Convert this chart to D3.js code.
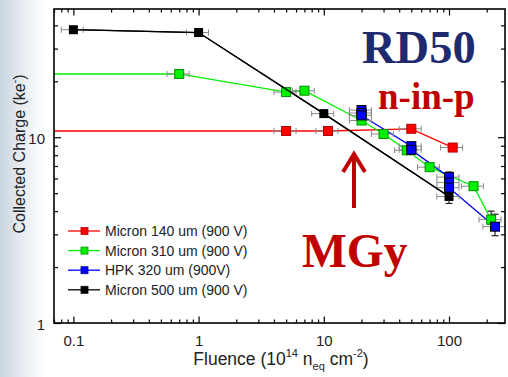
<!DOCTYPE html>
<html><head><meta charset="utf-8">
<script src="https://cdn.jsdelivr.net/npm/d3@7"></script>
<style>body{margin:0;background:#fff}svg{display:block}</style>
</head><body>
<svg id="c" width="508" height="377"></svg>
<script>
// ---- data (fluence in 1e14 neq/cm2, charge in ke-) ----
const seriesNames = ["Micron 140 um (900 V)", "Micron 310 um (900 V)", "HPK 320 um (900V)", "Micron 500 um (900 V)"];
const micron140 = [[0.01,10.8],[5,10.8],[10.8,10.8],[50,11.1],[107,8.8]];
const micron310 = [[0.01,21.9],[0.7,21.9],[5,17.5],[7,17.8],[20,12.3],[30,10.4],[46,8.5],[70,6.9],[157,5.45],[217,3.6]];
const hpk320 = [[20,14.0],[20,13.5],[20,13.1],[50,8.95],[50,8.55],[100,6.1],[100,5.7],[100,5.35],[233,3.3]];
const micron500 = [[0.1,37.9],[1,36.6],[10,13.4],[100,4.8]];
const verticalErrors = [[100,4.4,6.5],[233,2.95,3.85],[217,3.4,4.0],[50,8.2,9.3]];
const xMajorLabels = [0.1, 1, 10, 100];
const yMajorLabels = [1, 10];
const xDomain = [0.07, 280];
const yDomain = [1, 49];
const colors = ["#ff0000", "#00f000", "#0000ff", "#000000"];
const borders = ["#b00000", "#009000", "#000090", "#000000"];

const svg = d3.select("#c");
const M = {l:54, r:505, t:9, b:323};
const x = d3.scaleLog().domain(xDomain).range([M.l, M.r]);
const y = d3.scaleLog().domain(yDomain).range([M.b, M.t]);

// background
const defs = svg.append("defs");
const g0 = defs.append("linearGradient").attr("id","bg").attr("x1","0").attr("x2","1");
g0.append("stop").attr("offset","0").attr("stop-color","#c9d4df");
g0.append("stop").attr("offset","0.35").attr("stop-color","#dfe6ec");
g0.append("stop").attr("offset","1").attr("stop-color","#ffffff");
svg.append("rect").attr("width",508).attr("height",377).attr("fill","#fff");
svg.append("rect").attr("width",44).attr("height",377).attr("fill","url(#bg)");
defs.append("clipPath").attr("id","clip").append("rect")
  .attr("x",M.l).attr("y",M.t).attr("width",M.r-M.l).attr("height",M.b-M.t);
svg.append("rect").attr("x",M.l).attr("y",M.t).attr("width",M.r-M.l).attr("height",M.b-M.t).attr("fill","#fff");

// axes ticks (inward, mirrored)
const xAll = x.ticks(), yAll = y.ticks();
const isMaj = v => Math.abs(Math.log10(v) - Math.round(Math.log10(v))) < 1e-6;
const xMin = xAll.filter(v => !isMaj(v)), xMaj = xAll.filter(isMaj);
const yMin = yAll.filter(v => !isMaj(v)), yMaj = yAll.filter(isMaj);
function styleAxis(g){ g.select(".domain").remove(); g.selectAll("line").attr("stroke","#000").attr("stroke-width",1.2); }
const fmt = d => (xMajorLabels.includes(d) ? String(d) : "");
svg.append("g").attr("transform",`translate(0,${M.b})`).call(d3.axisBottom(x).tickValues(xMin).tickSize(-3.5).tickFormat("")).call(styleAxis);
svg.append("g").attr("transform",`translate(0,${M.b})`).call(d3.axisBottom(x).tickValues(xMaj).tickSize(-6.5).tickPadding(12).tickFormat(fmt)).call(styleAxis)
  .selectAll("text").attr("font-family","Liberation Sans, Arial").attr("font-size",15).attr("fill","#222");
svg.append("g").attr("transform",`translate(0,${M.t})`).call(d3.axisTop(x).tickValues(xMin).tickSize(-3.5).tickFormat("")).call(styleAxis);
svg.append("g").attr("transform",`translate(0,${M.t})`).call(d3.axisTop(x).tickValues(xMaj).tickSize(-6.5).tickFormat("")).call(styleAxis);
svg.append("g").attr("transform",`translate(${M.l},0)`).call(d3.axisLeft(y).tickValues(yMin).tickSize(-4).tickFormat("")).call(styleAxis);
svg.append("g").attr("transform",`translate(${M.l},0)`).call(d3.axisLeft(y).tickValues(yMaj).tickSize(-7).tickPadding(9).tickFormat(d => yMajorLabels.includes(d) ? String(d) : "")).call(styleAxis)
  .selectAll("text").attr("font-family","Liberation Sans, Arial").attr("font-size",15).attr("fill","#222").attr("dy","0.45em");
svg.append("g").attr("transform",`translate(${M.r},0)`).call(d3.axisRight(y).tickValues(yMin).tickSize(-4).tickFormat("")).call(styleAxis);
svg.append("g").attr("transform",`translate(${M.r},0)`).call(d3.axisRight(y).tickValues(yMaj).tickSize(-7).tickFormat("")).call(styleAxis);

// data
const plot = svg.append("g").attr("clip-path","url(#clip)");
const allSeries = [micron140, micron310, hpk320, micron500];
const line = d3.line().x(d => x(d[0])).y(d => y(d[1]));
const errFac = [0.8, 1.2];
const S = 9;
allSeries.forEach((data, i) => {
  plot.append("path").datum(data).attr("d", line).attr("fill","none").attr("stroke",colors[i]).attr("stroke-width",1.3);
});
// horizontal error bars
allSeries.forEach((data) => {
  data.forEach(d => {
    const x0 = x(d[0]*errFac[0]), x1 = x(d[0]*errFac[1]), yy = y(d[1]);
    plot.append("line").attr("x1",x0).attr("x2",x1).attr("y1",yy).attr("y2",yy).attr("stroke","#8a8a8a").attr("stroke-width",1);
    [x0,x1].forEach(xx => plot.append("line").attr("x1",xx).attr("x2",xx).attr("y1",yy-3).attr("y2",yy+3).attr("stroke","#8a8a8a").attr("stroke-width",1));
  });
});
// vertical error bars
verticalErrors.forEach(e => {
  const xx = x(e[0]);
  plot.append("line").attr("x1",xx).attr("x2",xx).attr("y1",y(e[1])).attr("y2",y(e[2])).attr("stroke","#222").attr("stroke-width",1.2);
  [e[1],e[2]].forEach(v => plot.append("line").attr("x1",xx-3.5).attr("x2",xx+3.5).attr("y1",y(v)).attr("y2",y(v)).attr("stroke","#222").attr("stroke-width",1.2));
});
// markers
[0,1,2].forEach(i => {
  allSeries[i].forEach(d => plot.append("rect").attr("x",x(d[0])-S/2).attr("y",y(d[1])-S/2).attr("width",S).attr("height",S)
    .attr("fill",colors[i]).attr("stroke",i===2?"#000":borders[i]).attr("stroke-width",1));
});
// black line over others, then black markers
plot.append("path").datum(micron500).attr("d", line).attr("fill","none").attr("stroke","#000").attr("stroke-width",1.3);
micron500.forEach(d => plot.append("rect").attr("x",x(d[0])-S/2).attr("y",y(d[1])-S/2).attr("width",S).attr("height",S).attr("fill","#000"));

// frame
svg.append("rect").attr("x",M.l).attr("y",M.t).attr("width",M.r-M.l).attr("height",M.b-M.t).attr("fill","none").attr("stroke","#000").attr("stroke-width",1.6);

// axis labels
const xl = svg.append("text").attr("x",281).attr("y",365).attr("text-anchor","middle")
  .attr("font-family","Liberation Sans, Arial").attr("font-size",17.5).attr("fill","#222");
xl.append("tspan").text("Fluence (10");
xl.append("tspan").text("14").attr("font-size",11).attr("dy",-8);
xl.append("tspan").text(" n").attr("dy",8);
xl.append("tspan").text("eq").attr("font-size",11).attr("dy",5);
xl.append("tspan").text(" cm").attr("dy",-5);
xl.append("tspan").text("-2").attr("font-size",11).attr("dy",-8);
xl.append("tspan").text(")").attr("dy",8);
const yl = svg.append("text").attr("transform","translate(25,154) rotate(-90)").attr("text-anchor","middle")
  .attr("font-family","Liberation Sans, Arial").attr("font-size",16).attr("fill","#222");
yl.append("tspan").text("Collected Charge (ke");
yl.append("tspan").text("-").attr("font-size",10.5).attr("dy",-7);
yl.append("tspan").text(")").attr("dy",7);

// legend
const lg = svg.append("g");
seriesNames.forEach((n, i) => {
  const yy = 231 + i*19.6;
  lg.append("line").attr("x1",68).attr("x2",100).attr("y1",yy).attr("y2",yy).attr("stroke",colors[i]).attr("stroke-width",1.3);
  lg.append("rect").attr("x",81).attr("y",yy-3.5).attr("width",7).attr("height",7).attr("fill",colors[i]).attr("stroke",borders[i]).attr("stroke-width",0.8);
  lg.append("text").attr("x",105).attr("y",yy+5).text(n).attr("font-family","Liberation Sans, Arial").attr("font-size",14).attr("fill","#222");
});

// annotations
svg.append("text").attr("x",362).attr("y",63).text("RD50").attr("font-family","Liberation Serif, Times New Roman").attr("font-weight","bold").attr("font-size",46.5).attr("fill","#1f2a6e");
svg.append("text").attr("x",378).attr("y",109).text("n-in-p").attr("font-family","Liberation Serif, Times New Roman").attr("font-weight","bold").attr("font-size",37).attr("fill","#c00000");
svg.append("text").attr("x",302).attr("y",267).text("MGy").attr("font-family","Liberation Serif, Times New Roman").attr("font-weight","bold").attr("font-size",47.5).attr("fill","#c00000");
svg.append("line").attr("x1",354).attr("x2",354).attr("y1",208).attr("y2",155).attr("stroke","#c00000").attr("stroke-width",4);
svg.append("path").attr("d","M343,172 L354,154 L365,172").attr("fill","none").attr("stroke","#c00000").attr("stroke-width",4).attr("stroke-linejoin","miter");
</script>
</body></html>
